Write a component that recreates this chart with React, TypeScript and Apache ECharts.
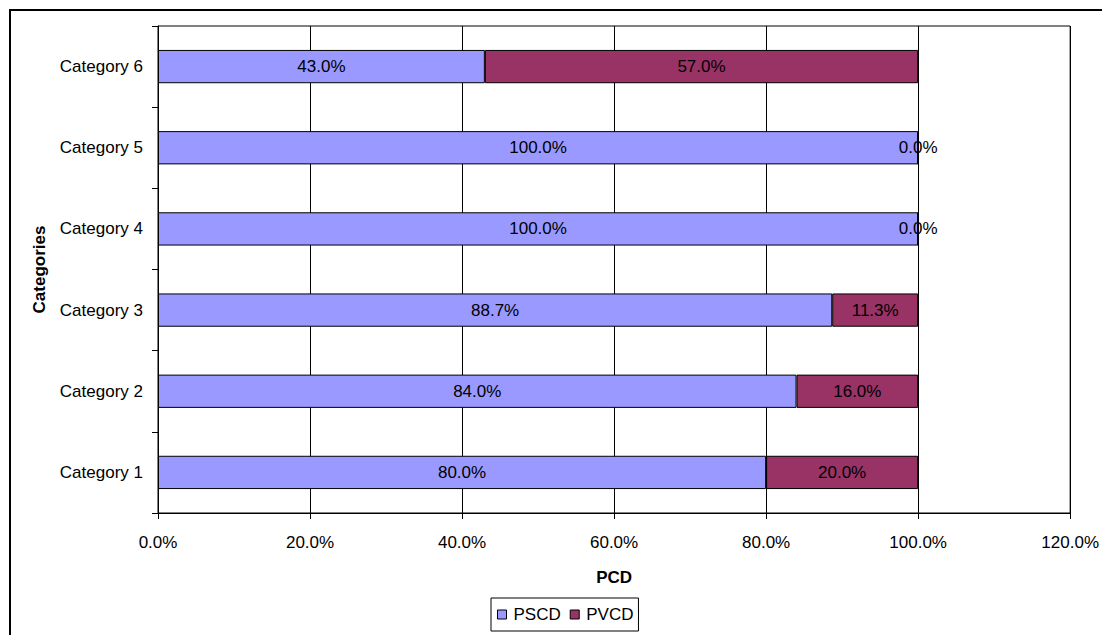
import React, { useEffect, useRef } from "react";
import * as echarts from "echarts";

const categories = ["Category 1", "Category 2", "Category 3", "Category 4", "Category 5", "Category 6"];
const pscd = [80.0, 84.0, 88.7, 100.0, 100.0, 43.0];
const pvcd = [20.0, 16.0, 11.3, 0.0, 0.0, 57.0];
const xTicks = { min: 0, max: 120, interval: 20 };

const FONT = "Liberation Sans, Arial, sans-serif";
const FS = 17;

export default function App() {
  const ref = useRef<HTMLDivElement>(null);
  useEffect(() => {
    if (!ref.current) return;
    const chart = echarts.init(ref.current, undefined, { renderer: "svg" });
    const label = {
      show: true,
      position: "inside",
      color: "#000",
      fontFamily: FONT,
      fontSize: FS,
      formatter: (p: any) => Number(p.value).toFixed(1) + "%",
    };
    chart.setOption({
      animation: false,
      backgroundColor: "#fff",
      textStyle: { fontFamily: FONT },
      graphic: [
        {
          type: "rect",
          shape: { x: 10, y: 10, width: 1100, height: 650 },
          style: { fill: "none", stroke: "#000", lineWidth: 2 },
          z: 100,
        },
      ],
      grid: {
        left: 158,
        top: 26,
        width: 914,
        height: 487,
        show: true,
        borderColor: "#000",
        borderWidth: 1,
        backgroundColor: "transparent",
      },
      legend: {
        left: 491,
        top: 598,
        orient: "horizontal",
        itemWidth: 9,
        itemHeight: 9,
        itemGap: 9,
        padding: [8, 5, 8, 6],
        borderColor: "#000",
        borderWidth: 1,
        icon: "rect",
        textStyle: { fontFamily: FONT, fontSize: FS, color: "#000", padding: [0, 0, 0, 2] },
        data: [
          { name: "PSCD", itemStyle: { borderColor: "#000", borderWidth: 1 } },
          { name: "PVCD", itemStyle: { borderColor: "#000", borderWidth: 1 } },
        ],
      },
      xAxis: {
        type: "value",
        min: xTicks.min,
        max: xTicks.max,
        interval: xTicks.interval,
        name: "PCD",
        nameLocation: "middle",
        nameGap: 56,
        nameTextStyle: { fontFamily: FONT, fontSize: FS, fontWeight: "bold", color: "#000" },
        axisLine: { show: true, lineStyle: { color: "#000", width: 1 } },
        axisTick: { show: true, length: 6, lineStyle: { color: "#000" } },
        axisLabel: {
          margin: 21,
          color: "#000",
          fontFamily: FONT,
          fontSize: FS,
          formatter: (v: number) => v.toFixed(1) + "%",
        },
        splitLine: { show: true, lineStyle: { color: "#000", width: 1 } },
      },
      yAxis: {
        type: "category",
        data: categories,
        name: "Categories",
        nameLocation: "middle",
        nameRotate: 90,
        nameGap: 110,
        nameTextStyle: { fontFamily: FONT, fontSize: FS, fontWeight: "bold", color: "#000" },
        axisLine: { show: true, lineStyle: { color: "#000", width: 1 } },
        axisTick: { show: true, length: 6, alignWithLabel: false, lineStyle: { color: "#000" } },
        axisLabel: { margin: 15, color: "#000", fontFamily: FONT, fontSize: FS },
        splitLine: { show: false },
      },
      series: [
        {
          name: "PSCD",
          type: "bar",
          stack: "total",
          barWidth: "41%",
          data: pscd,
          itemStyle: { color: "#9999FF", borderColor: "#000", borderWidth: 1 },
          label,
        },
        {
          name: "PVCD",
          type: "bar",
          stack: "total",
          barWidth: "41%",
          data: pvcd,
          itemStyle: { color: "#993366", borderColor: "#000", borderWidth: 1 },
          label,
        },
      ],
    });
    return () => chart.dispose();
  }, []);
  return (
    <div
      ref={ref}
      style={{ position: "fixed", left: 0, top: 0, width: 1102, height: 635, background: "#fff" }}
    />
  );
}
